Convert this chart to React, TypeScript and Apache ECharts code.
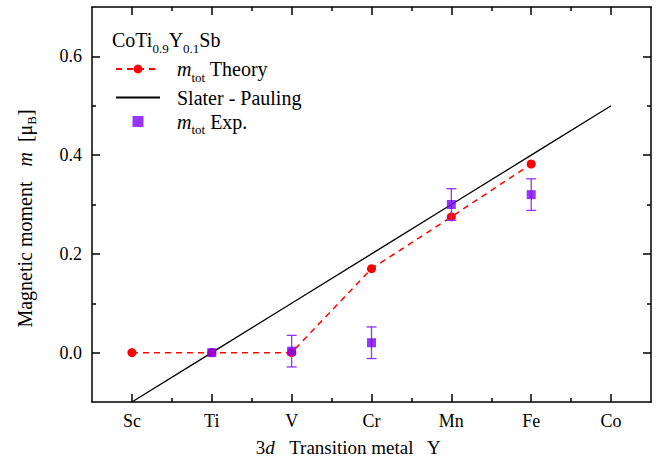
import React, { useEffect, useRef } from 'react';
import * as echarts from 'echarts';

const categories = ['Sc', 'Ti', 'V', 'Cr', 'Mn', 'Fe', 'Co'];
const theoryValues = [0.0, 0.0, 0.0, 0.17, 0.275, 0.382];
const slaterPaulingValues = [-0.1, 0.0, 0.1, 0.2, 0.3, 0.4, 0.5];
const expIndex = [1, 2, 3, 4, 5];
const expValues = [0.0, 0.003, 0.02, 0.3, 0.32];
const expErrors = [0.0, 0.032, 0.032, 0.032, 0.032];
const yMajorTicks = [0, 0.2, 0.4, 0.6];
const yMinorTicks = [0.1, 0.3, 0.5];
const xMajorTicks = [0, 1, 2, 3, 4, 5, 6];
const xMinorTicks = [0.5, 1.5, 2.5, 3.5, 4.5, 5.5];

const FONT = 'Liberation Serif';
const RED = '#FF0000';
const PURPLE = '#8000FF';

export default function App() {
  const ref = useRef<HTMLDivElement>(null);
  useEffect(() => {
    if (!ref.current) return;
    document.body.style.margin = '0';
    const chart = echarts.init(ref.current, undefined, { renderer: 'svg' });

    const xBase = (position: string, ticks: number[], len: number, labels: boolean, line: boolean, extra: any = {}) => ({
      type: 'value',
      min: -0.5,
      max: 6.5,
      position,
      splitLine: { show: false },
      axisLine: { show: line, onZero: false, lineStyle: { color: '#000', width: 1.5 } },
      axisTick: { show: true, inside: true, length: len, customValues: ticks, lineStyle: { color: '#000', width: 1.5 } },
      axisLabel: labels
        ? {
            show: true,
            customValues: ticks,
            formatter: (v: number) => categories[Math.round(v)] ?? '',
            fontFamily: FONT,
            fontSize: 18,
            color: '#000',
            margin: 10,
          }
        : { show: false },
      ...extra,
    });
    const yBase = (position: string, ticks: number[], len: number, labels: boolean, line: boolean, extra: any = {}) => ({
      type: 'value',
      min: -0.1,
      max: 0.7,
      position,
      splitLine: { show: false },
      axisLine: { show: line, onZero: false, lineStyle: { color: '#000', width: 1.5 } },
      axisTick: { show: true, inside: true, length: len, customValues: ticks, lineStyle: { color: '#000', width: 1.5 } },
      axisLabel: labels
        ? {
            show: true,
            customValues: ticks,
            formatter: (v: number) => v.toFixed(1),
            fontFamily: FONT,
            fontSize: 18,
            color: '#000',
            margin: 10,
          }
        : { show: false },
      ...extra,
    });

    const rich = {
      i: { fontStyle: 'italic', fontFamily: FONT, fontSize: 20, color: '#000' },
      sub: { fontFamily: FONT, fontSize: 13, color: '#000', padding: [16, 0, 0, 0] },
      n: { fontFamily: FONT, fontSize: 20, color: '#000' },
    };

    const option: any = {
      animation: false,
      textStyle: { fontFamily: FONT },
      grid: { left: 92, right: 8, top: 7, bottom: 64 },
      xAxis: [
        xBase('bottom', xMajorTicks, 8, true, true, {
          name: '3{ii|d}   Transition metal   Y',
          nameLocation: 'middle',
          nameGap: 36,
          nameTextStyle: {
            fontFamily: FONT,
            fontSize: 19,
            color: '#000',
            padding: [0, 46, 0, 0],
            rich: { ii: { fontStyle: 'italic', fontFamily: FONT, fontSize: 19, color: '#000' } },
          },
        }),
        xBase('bottom', xMinorTicks, 4, false, false),
        xBase('top', xMajorTicks, 8, false, true),
        xBase('top', xMinorTicks, 4, false, false),
      ],
      yAxis: [
        yBase('left', yMajorTicks, 8, true, true, {
          name: 'Magnetic moment   {ii|m}  [μ{ss|B}]',
          nameLocation: 'middle',
          nameGap: 54,
          nameTextStyle: {
            fontFamily: FONT,
            fontSize: 20,
            color: '#000',
            padding: [0, 28, 0, 0],
            rich: {
              ii: { fontStyle: 'italic', fontFamily: FONT, fontSize: 20, color: '#000' },
              ss: { fontFamily: FONT, fontSize: 13, color: '#000', padding: [14, 0, 0, 0] },
            },
          },
        }),
        yBase('left', yMinorTicks, 4, false, false),
        yBase('right', yMajorTicks, 8, false, true),
        yBase('right', yMinorTicks, 4, false, false),
      ],
      legend: {
        orient: 'vertical',
        left: 110,
        top: 54,
        itemWidth: 44,
        itemHeight: 11,
        itemGap: 4,
        data: [
          { name: 'theory' },
          { name: 'sp', itemStyle: { color: 'rgba(0,0,0,0)', borderWidth: 0, opacity: 0 } },
          { name: 'exp', icon: 'path://M0,0L1,0L1,1L0,1Z' },
        ],
        formatter: (name: string) => {
          if (name === 'theory') return '{i|m}{sub|tot}{n| Theory}';
          if (name === 'sp') return '{n|Slater - Pauling}';
          return '{i|m}{sub|tot}{n| Exp.}';
        },
        textStyle: { fontFamily: FONT, fontSize: 20, color: '#000', rich, padding: [0, 0, 0, 12] },
      },
      graphic: [
        {
          type: 'text',
          left: 112,
          top: 30,
          style: {
            text: '{n|CoTi}{sub|0.9}{n|Y}{sub|0.1}{n|Sb}',
            rich,
            fill: '#000',
            fontFamily: FONT,
          },
        },
      ],
      series: [
        {
          name: 'sp',
          type: 'line',
          xAxisIndex: 0,
          yAxisIndex: 0,
          data: slaterPaulingValues.map((v, i) => [i, v]),
          symbol: 'none',
          lineStyle: { color: '#000', width: 1.3 },
          itemStyle: { color: '#000' },
          z: 2,
        },
        {
          name: 'theory',
          type: 'line',
          xAxisIndex: 0,
          yAxisIndex: 0,
          data: theoryValues.map((v, i) => [i, v]),
          symbol: 'circle',
          symbolSize: 9,
          lineStyle: { color: RED, width: 1.5, type: [6, 5] },
          itemStyle: { color: RED },
          z: 3,
        },
        {
          name: 'errbar',
          type: 'custom',
          xAxisIndex: 0,
          yAxisIndex: 0,
          data: expIndex.map((x, i) => [x, expValues[i], expErrors[i]]).filter((d) => d[2] > 0),
          renderItem: (params: any, api: any) => {
            const x = api.value(0);
            const y = api.value(1);
            const e = api.value(2);
            const top = api.coord([x, y + e]);
            const bot = api.coord([x, y - e]);
            const w = 5;
            const style = { stroke: '#8F33FF', lineWidth: 1.3 };
            return {
              type: 'group',
              children: [
                { type: 'line', shape: { x1: top[0], y1: top[1], x2: bot[0], y2: bot[1] }, style },
                { type: 'line', shape: { x1: top[0] - w, y1: top[1], x2: top[0] + w, y2: top[1] }, style },
                { type: 'line', shape: { x1: bot[0] - w, y1: bot[1], x2: bot[0] + w, y2: bot[1] }, style },
              ],
            };
          },
          z: 4,
        },
        {
          name: 'exp',
          type: 'scatter',
          xAxisIndex: 0,
          yAxisIndex: 0,
          data: expIndex.map((x, i) => [x, expValues[i]]),
          symbol: 'rect',
          symbolSize: 9,
          itemStyle: { color: PURPLE },
          z: 5,
        },
      ],
    };
    chart.setOption(option);
    return () => chart.dispose();
  }, []);
  return <div ref={ref} style={{ width: 659, height: 466 }} />;
}
